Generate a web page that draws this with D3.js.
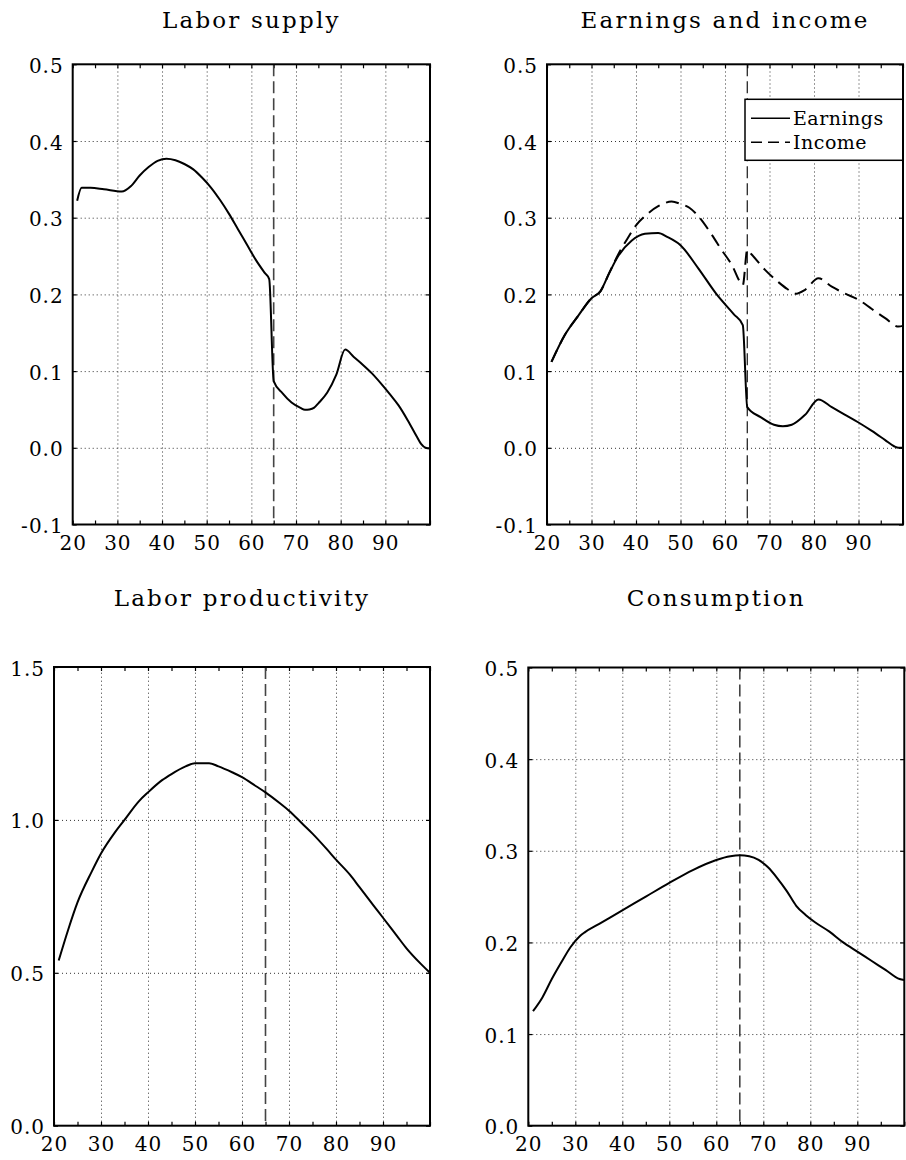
<!DOCTYPE html>
<head>
    <meta charset="utf-8">
    <script src="https://cdn.jsdelivr.net/npm/d3@7"></script>
    <style>
        body { margin: 0; background: #fff; }
        svg { display: block; font-family: "DejaVu Serif", serif; }
        .lbl text { font-family: "DejaVu Serif", serif; font-size: 20px; fill: #000; letter-spacing: 1px; }
        .lbl path, .lbl line { display: none; }
        .grid line { stroke: #333; stroke-width: 1; stroke-dasharray: 1,3; }
        .grid path { display: none; }
        .marks line { stroke: #000; stroke-width: 1.2; }
        .marks path, .marks text { display: none; }
        .title { font-size: 23px; letter-spacing: 2.2px; }
    </style>
</head>
<body>
<div id="chart"></div>
<script>

// x axis
const xLabelTicks = [20, 30, 40, 50, 60, 70, 80, 90];
const xGridTicks = [30, 40, 50, 60, 70, 80, 90];
const xMinorTicks = [20, 25, 30, 35, 40, 45, 50, 55, 60, 65, 70, 75, 80, 85, 90, 95, 100];
const retireAge = 65;

// Labor supply
const laborAge = [21, 22, 24, 27, 31, 33, 35, 37, 39, 41, 43, 45, 47, 49, 51, 53, 55, 57, 59, 61, 63, 64,
    65, 67, 69, 71, 72, 73, 74, 75, 77, 79, 81, 83, 85, 87, 89, 91, 93, 95, 97, 98, 99, 100];
const laborVal = [0.322, 0.339, 0.339, 0.337, 0.334, 0.341, 0.355, 0.366, 0.374, 0.377, 0.375, 0.370, 0.363, 0.352, 0.339, 0.323, 0.305, 0.285, 0.265, 0.245, 0.228, 0.220,
    0.087, 0.071, 0.059, 0.052, 0.0495, 0.050, 0.052, 0.058, 0.072, 0.095, 0.128, 0.118, 0.108, 0.097, 0.084, 0.070, 0.055, 0.036, 0.015, 0.005, 0.0, -0.001];

// Earnings
const earnAge = [21, 24, 27, 30, 32, 34, 36, 39, 42, 45, 47, 50, 54, 58, 62, 64,
    65, 68, 71, 73, 75, 78, 81, 84, 87, 90, 93, 96, 98, 99, 100];
const earnVal = [0.112, 0.147, 0.172, 0.195, 0.204, 0.228, 0.250, 0.270, 0.279, 0.280, 0.275, 0.264, 0.234, 0.201, 0.174, 0.160,
    0.053, 0.040, 0.030, 0.028, 0.030, 0.043, 0.063, 0.053, 0.043, 0.033, 0.022, 0.010, 0.002, 0.0, 0.0];

// Income
const incomeAge = [21, 24, 27, 30, 32, 34, 36, 38, 40, 42, 45, 48, 50, 52, 54, 57, 59, 62, 63, 64,
    65, 66, 69, 72, 74, 76, 78, 81, 84, 87, 90, 93, 96, 99, 100];
const incomeVal = [0.112, 0.147, 0.172, 0.195, 0.204, 0.228, 0.252, 0.272, 0.290, 0.302, 0.315, 0.321, 0.318, 0.313, 0.302, 0.278, 0.260, 0.233, 0.220, 0.212,
    0.258, 0.252, 0.232, 0.216, 0.207, 0.201, 0.206, 0.221, 0.210, 0.201, 0.193, 0.181, 0.169, 0.158, 0.159];

// Labor productivity
const prodAge = [21, 23, 25, 28, 30, 33, 35, 38, 40, 43, 45, 48, 50, 53, 55, 58, 60, 63, 65, 68, 70, 73, 75, 78, 80, 83, 85, 88, 90, 93, 95, 98, 100];
const prodVal = [0.54, 0.64, 0.73, 0.83, 0.89, 0.96, 1.00, 1.06, 1.09, 1.13, 1.15, 1.175, 1.185, 1.185, 1.175, 1.155, 1.14, 1.11, 1.09, 1.055, 1.03, 0.985, 0.955, 0.905, 0.87, 0.82, 0.78, 0.72, 0.68, 0.62, 0.58, 0.53, 0.50];

// Consumption
const consAge = [21, 23, 25, 27, 29, 31, 32, 35, 40, 45, 50, 55, 60, 63, 65, 67, 69, 71, 73, 75, 77, 79, 81, 84, 87, 90, 93, 96, 99, 100];
const consVal = [0.125, 0.140, 0.160, 0.178, 0.195, 0.207, 0.211, 0.220, 0.235, 0.250, 0.265, 0.279, 0.290, 0.294, 0.295, 0.294, 0.290, 0.282, 0.270, 0.256, 0.240, 0.230, 0.222, 0.212, 0.200, 0.190, 0.180, 0.170, 0.160, 0.159];

// y ticks
const yTicksTop = [-0.1, 0, 0.1, 0.2, 0.3, 0.4, 0.5];
const yTicksProd = [0, 0.5, 1.0, 1.5];
const yTicksCons = [0, 0.1, 0.2, 0.3, 0.4, 0.5];

const svg = d3.select("#chart").append("svg")
    .attr("width", 906)
    .attr("height", 1160);

function zip(a, b) { return a.map((d, i) => [d, b[i]]); }

function drawPanel(p) {
    const g = svg.append("g").attr("transform", `translate(${p.left},${p.top})`);
    const x = d3.scaleLinear().domain([20, 100]).range([0, p.w]);
    const y = d3.scaleLinear().domain(p.yDomain).range([p.h, 0]);
    const yInner = p.yTicks.filter(v => v > p.yDomain[0] && v < p.yDomain[1]);

    // title
    svg.append("text")
        .attr("class", "title")
        .attr("x", p.left + p.w / 2)
        .attr("y", p.titleY)
        .attr("text-anchor", "middle")
        .text(p.title);

    // dotted grid
    g.append("g").attr("class", "grid")
        .attr("transform", `translate(0,${p.h})`)
        .call(d3.axisBottom(x).tickValues(xGridTicks).tickSize(-p.h).tickFormat(""));
    g.append("g").attr("class", "grid")
        .call(d3.axisLeft(y).tickValues(yInner).tickSize(-p.w).tickFormat(""));

    // inward tick marks on all four sides
    g.append("g").attr("class", "marks")
        .attr("transform", `translate(0,${p.h})`)
        .call(d3.axisTop(x).tickValues(xMinorTicks).tickSize(4));
    g.append("g").attr("class", "marks")
        .call(d3.axisBottom(x).tickValues(xMinorTicks).tickSize(4));
    g.append("g").attr("class", "marks")
        .call(d3.axisRight(y).tickValues(p.yTicks).tickSize(4));
    g.append("g").attr("class", "marks")
        .attr("transform", `translate(${p.w},0)`)
        .call(d3.axisLeft(y).tickValues(p.yTicks).tickSize(4));

    // tick labels
    g.append("g").attr("class", "lbl")
        .attr("transform", `translate(0,${p.h})`)
        .call(d3.axisBottom(x).tickValues(xLabelTicks).tickSize(0).tickPadding(11).tickFormat(d3.format("d")));
    g.append("g").attr("class", "lbl")
        .call(d3.axisLeft(y).tickValues(p.yTicks).tickSize(0).tickPadding(9).tickFormat(v => v.toFixed(1)))
        .selectAll("text").attr("dy", "0.4em");

    // retirement line
    g.append("line")
        .attr("x1", x(retireAge)).attr("x2", x(retireAge))
        .attr("y1", 0).attr("y2", p.h)
        .attr("stroke", p.retireColor)
        .attr("stroke-width", p.retireWidth)
        .attr("stroke-dasharray", "12,5");

    const line = d3.line().curve(d3.curveMonotoneX).x(d => x(d[0])).y(d => y(d[1]));
    p.series.forEach(s => {
        g.append("path")
            .datum(zip(s.age, s.val))
            .attr("fill", "none")
            .attr("stroke", "#000")
            .attr("stroke-width", 2)
            .attr("stroke-dasharray", s.dash)
            .attr("d", line);
    });

    if (p.legend) {
        const lg = g.append("g").attr("transform", `translate(${p.w - 158},${35})`);
        lg.append("rect")
            .attr("width", 158).attr("height", 61)
            .attr("fill", "#fff").attr("stroke", "#000").attr("stroke-width", 1.5);
        p.series.forEach((s, i) => {
            lg.append("line")
                .attr("x1", 6).attr("x2", 45)
                .attr("y1", 19 + i * 24).attr("y2", 19 + i * 24)
                .attr("stroke", "#000").attr("stroke-width", 1.5)
                .attr("stroke-dasharray", s.dash ? "11,6" : null);
            lg.append("text")
                .attr("x", 48).attr("y", 26 + i * 24)
                .style("font-size", "19px")
                .style("letter-spacing", "0.5px")
                .text(s.name);
        });
    }

    // frame
    g.append("rect")
        .attr("width", p.w).attr("height", p.h)
        .attr("fill", "none").attr("stroke", "#000").attr("stroke-width", 2);
}

drawPanel({
    title: "Labor supply", titleY: 28,
    left: 72.7, top: 64.3, w: 357.3, h: 460.2,
    yDomain: [-0.1, 0.5], yTicks: yTicksTop,
    retireColor: "#444", retireWidth: 1.6,
    series: [{ age: laborAge, val: laborVal, dash: null }]
});

drawPanel({
    title: "Earnings and income", titleY: 28,
    left: 547, top: 64.3, w: 356, h: 460.2,
    yDomain: [-0.1, 0.5], yTicks: yTicksTop,
    retireColor: "#000", retireWidth: 1.1,
    legend: true,
    series: [
        { name: "Earnings", age: earnAge, val: earnVal, dash: null },
        { name: "Income", age: incomeAge, val: incomeVal, dash: "13,7" }
    ]
});

drawPanel({
    title: "Labor productivity", titleY: 606,
    left: 54, top: 667, w: 376, h: 458.7,
    yDomain: [0, 1.5], yTicks: yTicksProd,
    retireColor: "#444", retireWidth: 1.6,
    series: [{ age: prodAge, val: prodVal, dash: null }]
});

drawPanel({
    title: "Consumption", titleY: 606,
    left: 528.3, top: 667.5, w: 376, h: 458.2,
    yDomain: [0, 0.5], yTicks: yTicksCons,
    retireColor: "#444", retireWidth: 1.6,
    series: [{ age: consAge, val: consVal, dash: null }]
});

</script>
</body>
